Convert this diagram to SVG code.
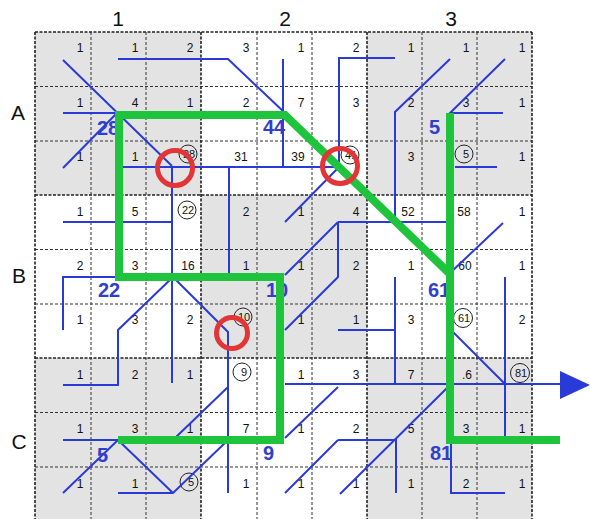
<svg xmlns="http://www.w3.org/2000/svg" width="590" height="519" viewBox="0 0 590 519">
<style>
.n{font-family:"Liberation Sans",Arial,sans-serif;font-size:12px;fill:#111;text-anchor:middle}
.c{font-family:"Liberation Sans",Arial,sans-serif;font-size:11px;fill:#111;text-anchor:middle}
.hdr{font-family:"Liberation Sans",Arial,sans-serif;font-size:21px;fill:#111;text-anchor:middle}
.lab{font-family:"Liberation Sans",Arial,sans-serif;font-size:20px;font-weight:bold;fill:#3040cc}
.gi{stroke:#333;stroke-width:1;stroke-dasharray:3,2;fill:none}
.gb{stroke:#222;stroke-width:1.6;stroke-dasharray:3,1.5;fill:none}
.bl{stroke:#2a3ad8;stroke-width:2;fill:none;stroke-linejoin:miter}
.gr{stroke:#1ec43c;stroke-width:8;fill:none;stroke-linejoin:miter;stroke-linecap:butt}
.rc{stroke:#e33535;stroke-width:5;fill:none}
.cc{stroke:#222;stroke-width:1;fill:none}
</style>
<rect width="590" height="519" fill="#ffffff"/>
<g id="grid">
<rect x="35" y="32" width="166" height="163" fill="#e3e3e3"/>
<rect x="367" y="32" width="165" height="163" fill="#e3e3e3"/>
<rect x="201" y="195" width="166" height="163" fill="#e3e3e3"/>
<rect x="35" y="358" width="166" height="163" fill="#e3e3e3"/>
<rect x="367" y="358" width="165" height="163" fill="#e3e3e3"/>
<path class="gi" d="M91,32V521M146,32V521M257,32V521M312,32V521M422,32V521M477,32V521M35,86.5H532M35,141H532M35,249.5H532M35,304H532M35,412.5H532M35,467H532"/>
<path class="gb" d="M35,32V521M201,32V521M367,32V521M532,32V521M35,32H532M35,195H532M35,358H532"/>
</g>
<g id="headers">
<text class="hdr" x="118" y="26">1</text>
<text class="hdr" x="285" y="26">2</text>
<text class="hdr" x="451" y="26">3</text>
<text class="hdr" x="18" y="120">A</text>
<text class="hdr" x="19" y="283">B</text>
<text class="hdr" x="19" y="449">C</text>
</g>
<g id="numbers">
<text class="n" x="80" y="52">1</text><text class="n" x="135" y="52">1</text><text class="n" x="190" y="52">2</text><text class="n" x="246" y="52">3</text><text class="n" x="301" y="52">1</text><text class="n" x="356" y="52">2</text><text class="n" x="411" y="52">1</text><text class="n" x="466" y="52">1</text><text class="n" x="522" y="52">1</text>
<text class="n" x="80" y="107">1</text><text class="n" x="135" y="107">4</text><text class="n" x="190" y="107">1</text><text class="n" x="246" y="107">2</text><text class="n" x="301" y="107">7</text><text class="n" x="356" y="107">3</text><text class="n" x="411" y="107">2</text><text class="n" x="466" y="107">3</text><text class="n" x="522" y="107">1</text>
<text class="n" x="80" y="161">1</text><text class="n" x="135" y="161">1</text><text class="n" x="241" y="161">31</text><text class="n" x="298" y="161">39</text><text class="n" x="411" y="161">3</text><text class="n" x="522" y="161">1</text>
<text class="n" x="80" y="216">1</text><text class="n" x="135" y="216">5</text><text class="n" x="246" y="216">2</text><text class="n" x="301" y="216">1</text><text class="n" x="356" y="216">4</text><text class="n" x="408" y="216">52</text><text class="n" x="464" y="216">58</text><text class="n" x="522" y="216">1</text>
<text class="n" x="80" y="270">2</text><text class="n" x="135" y="270">3</text><text class="n" x="188" y="270">16</text><text class="n" x="246" y="270">1</text><text class="n" x="301" y="270">1</text><text class="n" x="356" y="270">2</text><text class="n" x="411" y="270">1</text><text class="n" x="465" y="270">60</text><text class="n" x="522" y="270">1</text>
<text class="n" x="80" y="324">1</text><text class="n" x="135" y="324">3</text><text class="n" x="190" y="324">2</text><text class="n" x="301" y="324">1</text><text class="n" x="356" y="324">1</text><text class="n" x="411" y="324">3</text><text class="n" x="522" y="324">2</text>
<text class="n" x="80" y="379">1</text><text class="n" x="135" y="379">2</text><text class="n" x="190" y="379">1</text><text class="n" x="301" y="379">1</text><text class="n" x="356" y="379">3</text><text class="n" x="411" y="379">7</text><text class="n" x="467" y="379">.6</text>
<text class="n" x="80" y="433">1</text><text class="n" x="135" y="433">3</text><text class="n" x="190" y="433">1</text><text class="n" x="246" y="433">7</text><text class="n" x="301" y="433">1</text><text class="n" x="356" y="433">2</text><text class="n" x="411" y="433">5</text><text class="n" x="466" y="433">3</text><text class="n" x="522" y="433">1</text>
<text class="n" x="80" y="488">1</text><text class="n" x="135" y="488">1</text><text class="n" x="246" y="488">1</text><text class="n" x="301" y="488">1</text><text class="n" x="356" y="488">1</text><text class="n" x="411" y="488">1</text><text class="n" x="466" y="488">2</text><text class="n" x="522" y="488">1</text>
</g>
<g id="circled">
<circle class="cc" cx="188" cy="154" r="9"/><text class="c" x="189" y="158">28</text>
<circle class="cc" cx="350" cy="155" r="9"/><text class="c" x="351" y="159">41</text>
<circle class="cc" cx="464" cy="154" r="9"/><text class="c" x="466" y="158">5</text>
<circle class="cc" cx="187" cy="210" r="9"/><text class="c" x="188" y="214">22</text>
<circle class="cc" cx="243" cy="317" r="9"/><text class="c" x="244" y="321">10</text>
<circle class="cc" cx="463" cy="318" r="9.5"/><text class="c" x="464" y="322">61</text>
<circle class="cc" cx="242" cy="372" r="9"/><text class="c" x="244" y="376">9</text>
<circle class="cc" cx="520" cy="373" r="9.5"/><text class="c" x="521" y="377">81</text>
<circle class="cc" cx="189" cy="482" r="9"/><text class="c" x="191" y="486">5</text>
</g>
<g id="connectors">
<path class="bl" d="M63,60L172,166M63,113H117M63,168L117,113M118,59H228L285,113M283,59V167M120,167H339M339,162V58H395M340,166L285,222M172,166V383M229,167V275"/>
<path class="bl" d="M450,59L395,112V222M338,222H447M338,222L285,275M338,222V277L285,330M505,59L450,113H503M455,167H497M450,273L503,223"/>
<path class="bl" d="M395,277V384M338,330H395M505,277V440M453,332L505,384M285,384H562M450,385L340,494M338,440H396V493M338,440L285,493M338,387L285,438M451,440V493H505"/>
<path class="bl" d="M63,222H173M115,277H63V330M173,277L118,330V385H63M173,277L228,332V493M228,387L175,438M228,440L173,493H118M173,493L118,440M63,493L118,440M63,440H118"/>
<polygon points="560,371 560,399 590,385" fill="#2a3ad8"/>
</g>
<g id="labels">
<text class="lab" x="97" y="135">28</text>
<text class="lab" x="263" y="134">44</text>
<text class="lab" x="429" y="134">5</text>
<text class="lab" x="98" y="297">22</text>
<text class="lab" x="266" y="297">10</text>
<text class="lab" x="428" y="297">61</text>
<text class="lab" x="97" y="462">5</text>
<text class="lab" x="263" y="460">9</text>
<text class="lab" x="430" y="460">81</text>
</g>
<g id="paths">
<path class="gr" d="M450,274L285,115H119V277H280V440H118"/>
<path class="gr" d="M450,113V440H560"/>
</g>
<g id="marks">
<circle class="rc" cx="175" cy="168" r="17.5"/>
<circle class="rc" cx="340" cy="166" r="17.5"/>
<circle class="rc" cx="232" cy="333" r="15.5"/>
</g>
</svg>
